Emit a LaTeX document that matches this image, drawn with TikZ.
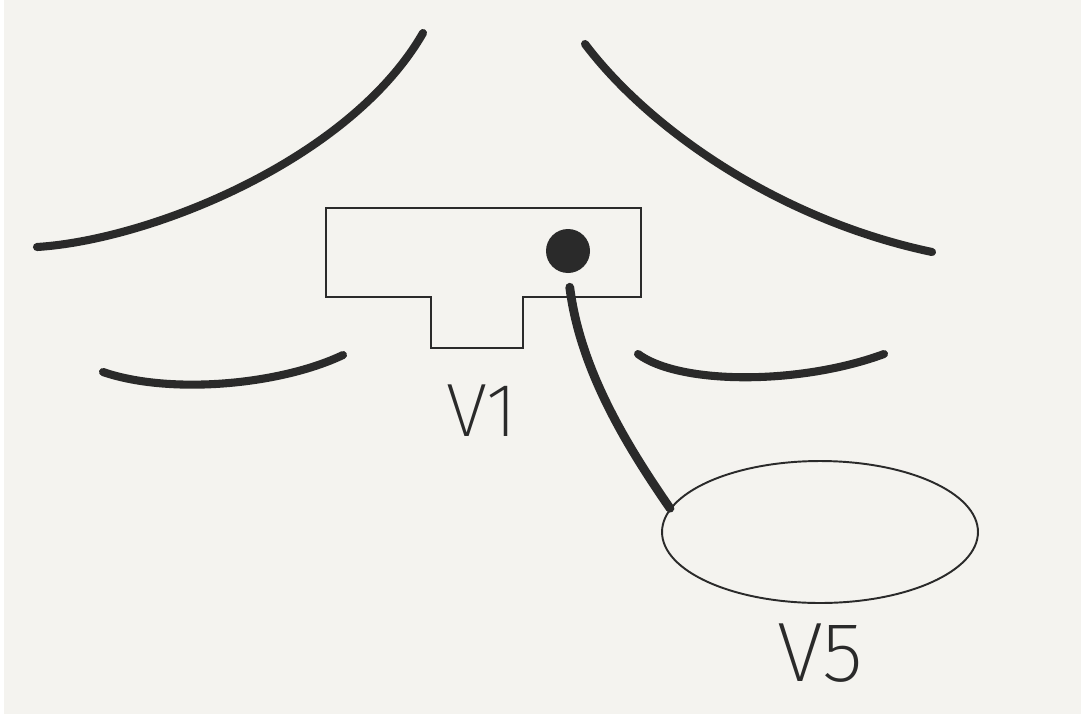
\documentclass[tikz,border=0pt]{standalone}
\usepackage{fontspec}
\usepackage{tikz}
\usetikzlibrary{shapes.geometric, positioning}
\newfontfamily\sketchfont{Fira Sans ExtraLight}
\definecolor{paper}{HTML}{F4F3EF}
\definecolor{ink}{HTML}{2A2A2A}

\begin{document}
\begin{tikzpicture}[
        x=0.02cm, y=-0.02cm,
        stroke/.style={ink, line width=4.6pt, line cap=round},
        outline/.style={ink, line width=1.1pt},
        wire/.style={ink, line width=5pt, line cap=round},
        dot/.style={circle, fill=ink, minimum size=0.88cm, inner sep=0pt},
        oval/.style={ellipse, draw=ink, line width=1.1pt, minimum width=6.32cm,
            minimum height=2.84cm, inner sep=0pt},
        tag/.style={ink, inner sep=0pt, font=\sketchfont\fontsize{43}{43}\selectfont}
    ]
        \useasboundingbox (0,0) rectangle (1081,717);
        \fill[paper] (0,0) rectangle (1081,717);
        \fill[white] (0,0) rectangle (4,717);
        \fill[white] (0,714) rectangle (1081,717);

        % strokes round the board
        \draw[stroke] (37,247) .. controls (150,240) and (350,160) .. (423,33);
        \draw[stroke] (585,44) .. controls (650,130) and (780,220) .. (932,252);
        \draw[stroke] (103,372) .. controls (170,395) and (280,385) .. (343,355);
        \draw[stroke] (638,354) .. controls (680,385) and (800,385) .. (884,354);

        % board with its tab
        \draw[outline] (326,208) -- (641,208) -- (641,297) -- (523,297) -- (523,348)
            -- (431,348) -- (431,297) -- (326,297) -- cycle;
        \node[dot] (pin) at (568,251) {};
        \node[tag] (v1) at (482,411) {V1};

        \node[oval] (pad) at (820,532) {};
        \node[tag, font=\sketchfont\fontsize{48}{48}\selectfont, below=0.4cm of pad] (v5) {V5};

        \draw[wire, shorten <=0.28cm] (pin.south) .. controls +(12,95) and +(-45,-65) .. (pad.171);
    \end{tikzpicture}
\end{document}
